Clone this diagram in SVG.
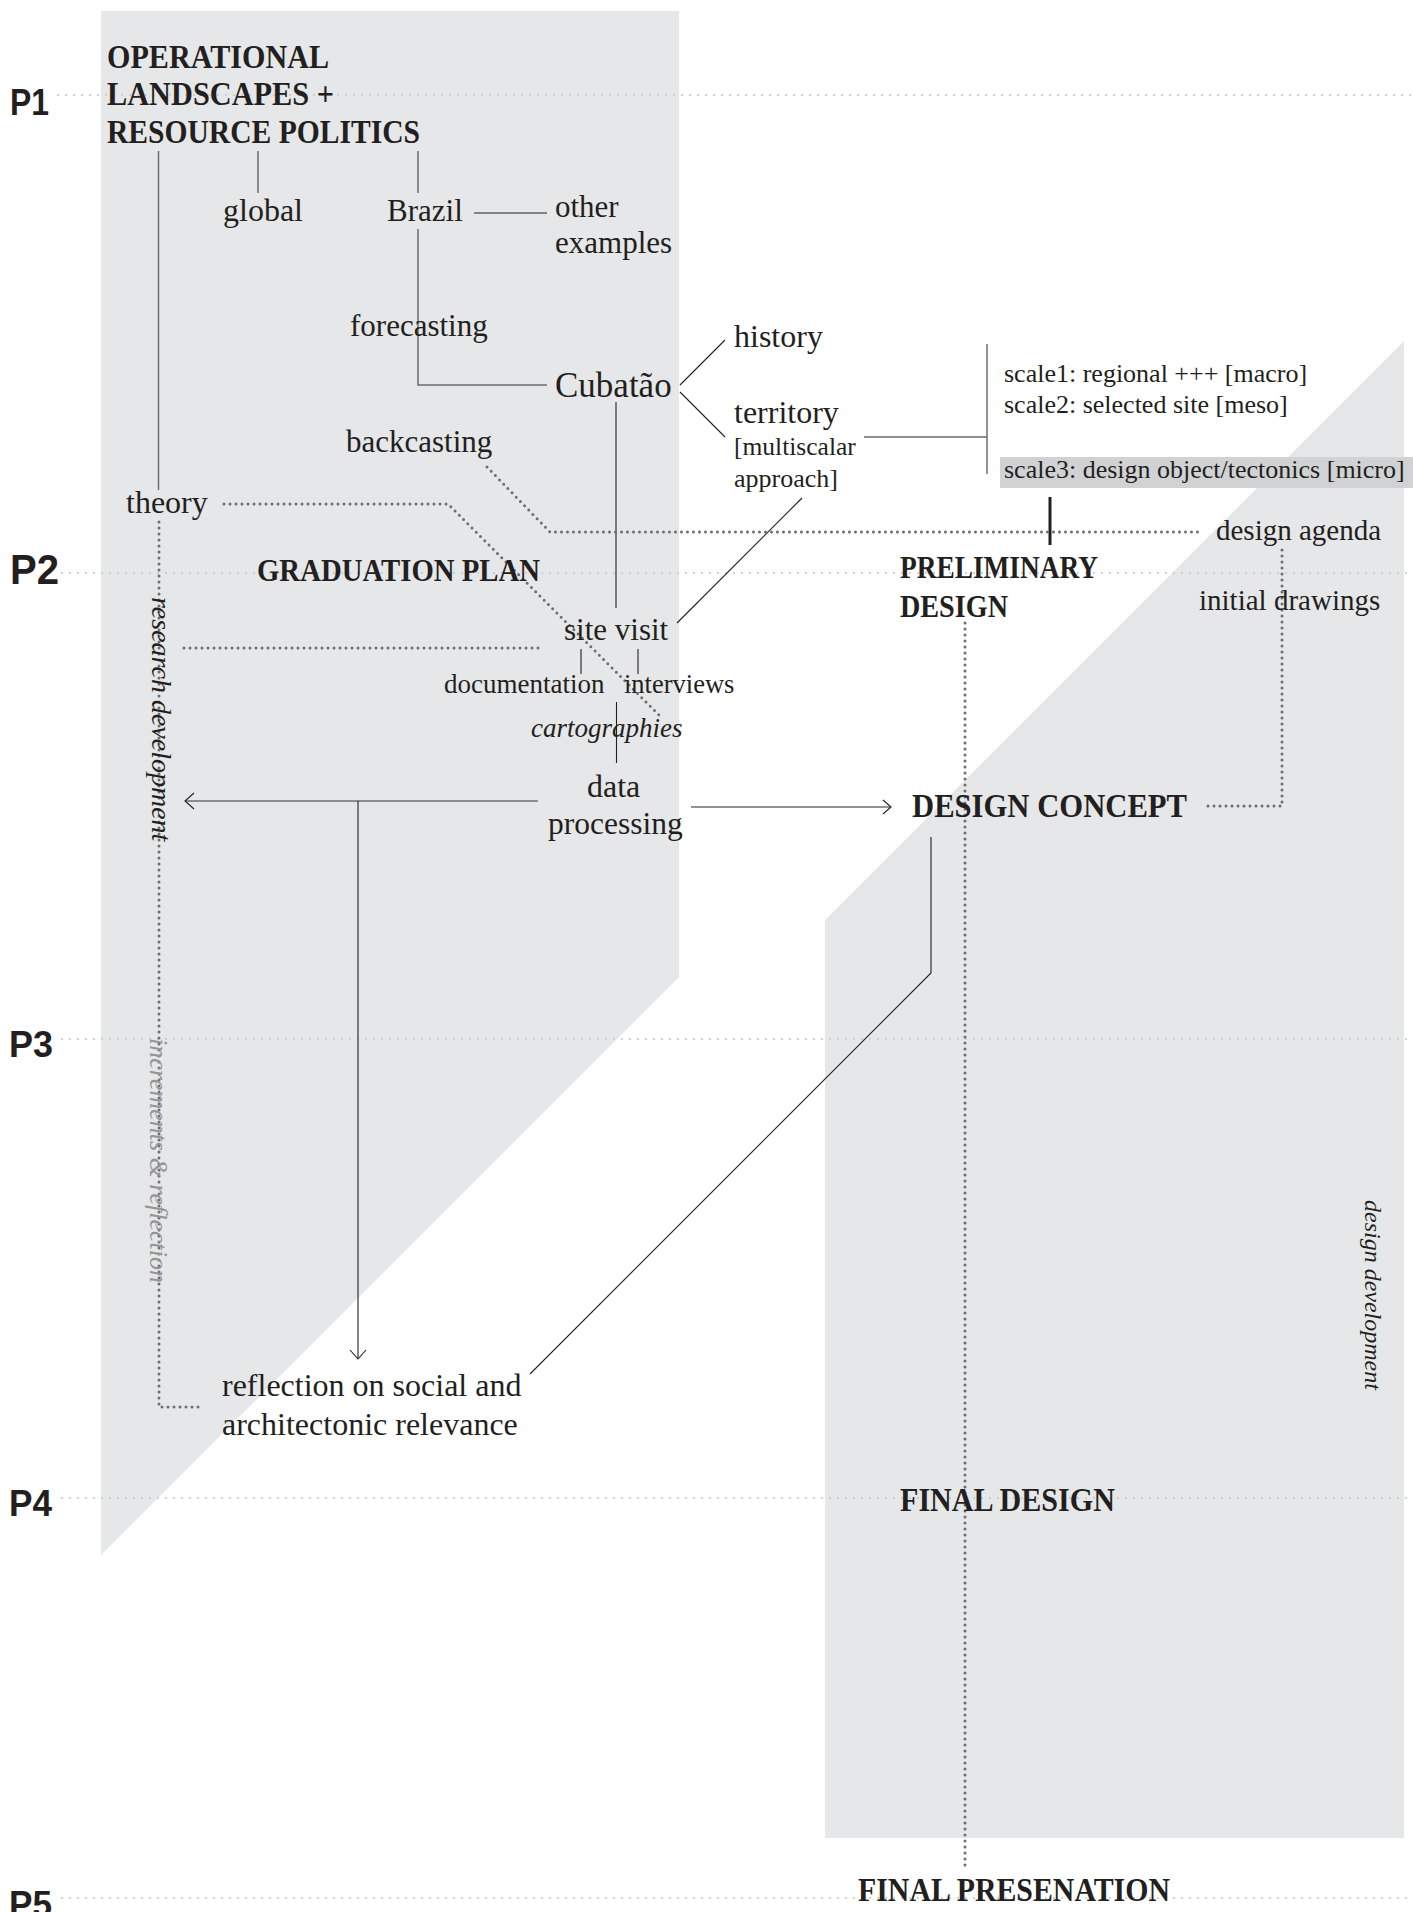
<svg xmlns="http://www.w3.org/2000/svg" width="1413" height="1912" viewBox="0 0 1413 1912">
  <style>
    .bg { fill: #ffffff; }
    .panel { fill: #e6e7e8; }
    .hl { fill: #d1d2d4; }
    .period { stroke: #c4c5c7; stroke-width: 2; stroke-linecap: round; stroke-dasharray: 0 8; fill: none; }
    .dot { stroke: #6d6e71; stroke-width: 3; stroke-linecap: round; stroke-dasharray: 0 6; fill: none; }
    .ln { stroke: #231f20; stroke-width: 1.1; fill: none; }
    .lg { stroke: #6d6e71; stroke-width: 1.5; fill: none; }
    .thick { stroke: #231f20; stroke-width: 3; fill: none; }
    .plab { font-family: "Liberation Sans", Arial, sans-serif; font-weight: bold; fill: #231f20; }
    .t { font-family: "Liberation Serif", "Times New Roman", serif; fill: #231f20; }
    .h { font-family: "Liberation Serif", "Times New Roman", serif; font-weight: bold; fill: #231f20; }
    .it { font-family: "Liberation Serif", "Times New Roman", serif; font-style: italic; fill: #231f20; }
    .itg { font-family: "Liberation Serif", "Times New Roman", serif; font-style: italic; fill: #939598; }
  </style>

  <rect class="bg" x="0" y="0" width="1413" height="1912"/>

  <!-- research and design phase fields -->
  <g id="fields">
    <polygon class="panel" points="101,11 679,11 679,977 101,1555"/>
    <polygon class="panel" points="825,920 1404,341 1404,1838 825,1838"/>
    <rect class="hl" x="1000" y="457" width="413" height="31"/>
  </g>

  <!-- milestone rows -->
  <g id="milestones">
    <line class="period" x1="58" y1="95" x2="1413" y2="95"/>
    <line class="period" x1="62" y1="573" x2="1413" y2="573"/>
    <line class="period" x1="62" y1="1039" x2="1413" y2="1039"/>
    <line class="period" x1="62" y1="1498" x2="1413" y2="1498"/>
    <line class="period" x1="62" y1="1898" x2="1413" y2="1898"/>
    <text class="plab" x="10" y="115" font-size="37" textLength="39" lengthAdjust="spacingAndGlyphs">P1</text>
    <text class="plab" x="10" y="584" font-size="43" textLength="49" lengthAdjust="spacingAndGlyphs">P2</text>
    <text class="plab" x="9" y="1057" font-size="37" textLength="44" lengthAdjust="spacingAndGlyphs">P3</text>
    <text class="plab" x="9" y="1516" font-size="37" textLength="43" lengthAdjust="spacingAndGlyphs">P4</text>
    <text class="plab" x="9" y="1917" font-size="37" textLength="43" lengthAdjust="spacingAndGlyphs">P5</text>
  </g>

  <!-- connectors -->
  <g id="connectors">
    <!-- topic tree -->
    <line class="lg" x1="158.5" y1="151" x2="158.5" y2="490"/>
    <line class="lg" x1="258" y1="151" x2="258" y2="193"/>
    <line class="lg" x1="418" y1="151" x2="418" y2="193"/>
    <line class="ln" x1="474" y1="213" x2="547" y2="213"/>
    <polyline class="lg" points="418,229 418,385 547,385"/>
    <line class="ln" x1="680" y1="385" x2="725" y2="340"/>
    <line class="ln" x1="680" y1="392" x2="725" y2="437"/>
    <line class="ln" x1="864" y1="437" x2="987" y2="437"/>
    <line class="lg" x1="987" y1="344" x2="987" y2="474"/>
    <line class="thick" x1="1050" y1="497" x2="1050" y2="545"/>
    <line class="ln" x1="616" y1="402" x2="616" y2="608"/>
    <line class="ln" x1="802" y1="498" x2="677" y2="623"/>
    <line class="ln" x1="581" y1="649" x2="581" y2="674"/>
    <line class="ln" x1="638" y1="649" x2="638" y2="674"/>
    <line class="ln" x1="616.5" y1="702" x2="616.5" y2="763"/>
    <!-- data processing outputs -->
    <line class="lg" x1="538" y1="801" x2="185" y2="801"/>
    <polyline class="ln" points="194,793 185,801 194,809"/>
    <line class="ln" x1="358" y1="801" x2="358" y2="1358"/>
    <polyline class="ln" points="350,1350 358,1359 366,1350"/>
    <line class="lg" x1="691" y1="807" x2="890" y2="807"/>
    <polyline class="ln" points="883,800 891,807 883,814"/>
    <polyline class="ln" points="931,837 931,973 530,1374"/>
    <!-- dotted relations -->
    <polyline class="dot" points="487,467 550,532 1200,532"/>
    <polyline class="dot" points="224,504 448,504 662,718"/>
    <line class="dot" x1="184" y1="648" x2="543" y2="648"/>
    <polyline class="dot" points="159,522 159,1407 201,1407"/>
    <line class="dot" x1="965" y1="623" x2="965" y2="1866"/>
    <polyline class="dot" points="1282,550 1282,806 1202,806"/>
  </g>

  <!-- nodes -->
  <g id="node-operational">
    <text class="h" x="107" y="68" font-size="34" textLength="222" lengthAdjust="spacingAndGlyphs">OPERATIONAL</text>
    <text class="h" x="107" y="105" font-size="34" textLength="227" lengthAdjust="spacingAndGlyphs">LANDSCAPES +</text>
    <text class="h" x="107" y="143" font-size="34" textLength="313" lengthAdjust="spacingAndGlyphs">RESOURCE POLITICS</text>
  </g>
  <g id="node-global"><text class="t" x="223" y="221" font-size="32">global</text></g>
  <g id="node-brazil"><text class="t" x="387" y="221" font-size="31">Brazil</text></g>
  <g id="node-other">
    <text class="t" x="555" y="217" font-size="31">other</text>
    <text class="t" x="555" y="253" font-size="31">examples</text>
  </g>
  <g id="node-forecasting"><text class="t" x="350" y="336" font-size="31">forecasting</text></g>
  <g id="node-cubatao"><text class="t" x="555" y="397" font-size="35">Cubatão</text></g>
  <g id="node-history"><text class="t" x="734" y="347" font-size="32">history</text></g>
  <g id="node-territory">
    <text class="t" x="734" y="423" font-size="32">territory</text>
    <text class="t" x="734" y="455" font-size="25.5">[multiscalar</text>
    <text class="t" x="734" y="487" font-size="26">approach]</text>
  </g>
  <g id="node-scales">
    <text class="t" x="1004" y="382" font-size="26">scale1: regional +++ [macro]</text>
    <text class="t" x="1004" y="413" font-size="26">scale2: selected site [meso]</text>
    <text class="t" x="1004" y="478" font-size="26">scale3: design object/tectonics [micro]</text>
  </g>
  <g id="node-backcasting"><text class="t" x="346" y="452" font-size="31">backcasting</text></g>
  <g id="node-theory"><text class="t" x="126" y="513" font-size="32">theory</text></g>
  <g id="node-graduation-plan"><text class="h" x="257" y="581" font-size="31" textLength="283" lengthAdjust="spacingAndGlyphs">GRADUATION PLAN</text></g>
  <g id="node-design-agenda"><text class="t" x="1216" y="540" font-size="29">design agenda</text></g>
  <g id="node-preliminary-design">
    <text class="h" x="900" y="578" font-size="31" textLength="198" lengthAdjust="spacingAndGlyphs">PRELIMINARY</text>
    <text class="h" x="900" y="617" font-size="31" textLength="108" lengthAdjust="spacingAndGlyphs">DESIGN</text>
  </g>
  <g id="node-initial-drawings"><text class="t" x="1199" y="610" font-size="29">initial drawings</text></g>
  <g id="node-site-visit"><text class="t" x="564" y="640" font-size="31">site visit</text></g>
  <g id="node-documentation"><text class="t" x="444" y="693" font-size="27">documentation</text></g>
  <g id="node-interviews"><text class="t" x="624" y="693" font-size="26.5">interviews</text></g>
  <g id="node-cartographies"><text class="it" x="531" y="737" font-size="27">cartographies</text></g>
  <g id="node-data-processing">
    <text class="t" x="587" y="797" font-size="32">data</text>
    <text class="t" x="548" y="834" font-size="31.5">processing</text>
  </g>
  <g id="node-design-concept"><text class="h" x="912" y="817" font-size="33" textLength="275" lengthAdjust="spacingAndGlyphs">DESIGN CONCEPT</text></g>
  <g id="node-reflection">
    <text class="t" x="222" y="1396" font-size="32">reflection on social and</text>
    <text class="t" x="222" y="1435" font-size="32">architectonic relevance</text>
  </g>
  <g id="node-final-design"><text class="h" x="900" y="1511" font-size="33" textLength="215" lengthAdjust="spacingAndGlyphs">FINAL DESIGN</text></g>
  <g id="node-final-presentation"><text class="h" x="858" y="1901" font-size="33" textLength="312" lengthAdjust="spacingAndGlyphs">FINAL PRESENATION</text></g>

  <!-- vertical track labels -->
  <g id="label-research-development">
    <text class="it" transform="translate(152,597) rotate(90)" font-size="28">research development</text>
  </g>
  <g id="label-increments">
    <text class="itg" transform="translate(150,1038) rotate(90)" font-size="26">increments &amp; reflection</text>
  </g>
  <g id="label-design-development">
    <text class="it" transform="translate(1365,1200) rotate(90)" font-size="24">design development</text>
  </g>
</svg>
